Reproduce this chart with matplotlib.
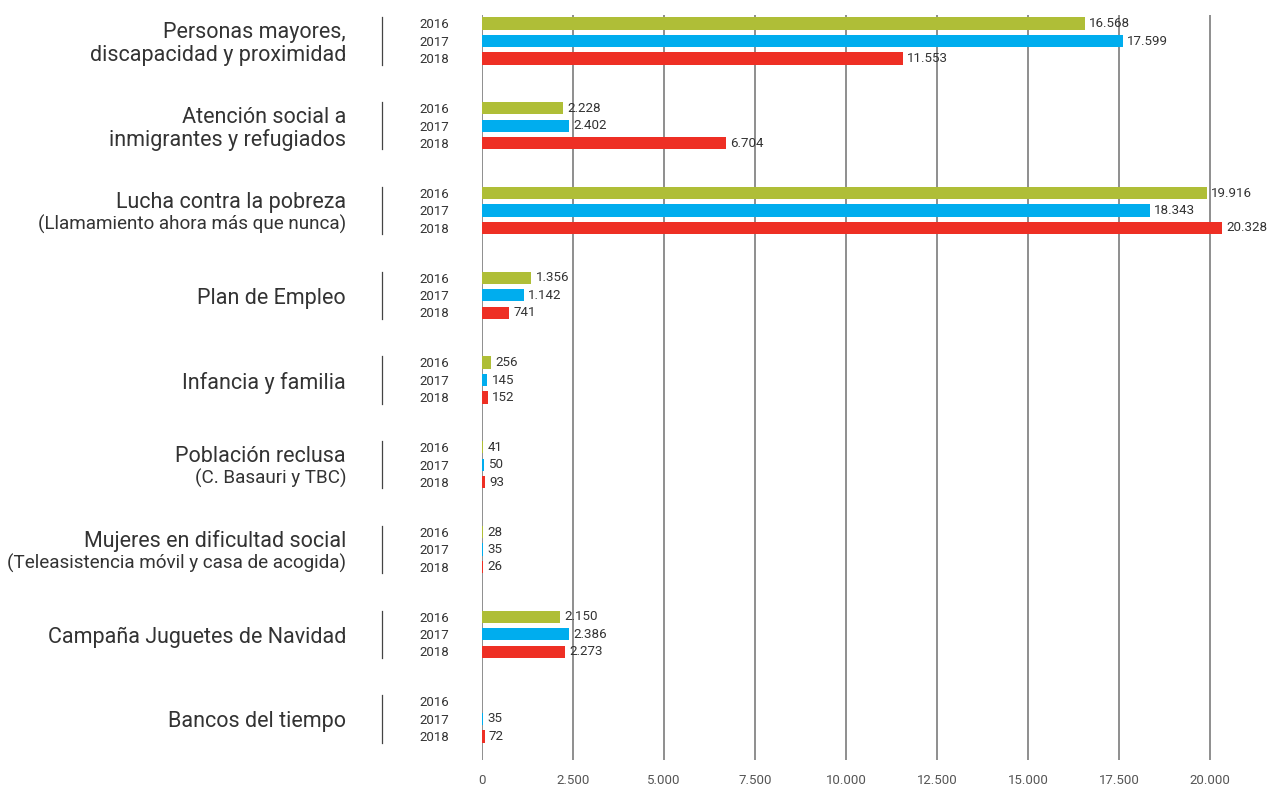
import numpy as np
import matplotlib
matplotlib.use('Agg')
import matplotlib.pyplot as plt
import matplotlib.transforms as mtransforms

plt.rcParams['font.family'] = ['Roboto', 'DejaVu Sans']

categories = ['Personas mayores,\ndiscapacidad y proximidad',
              'Atención social a\ninmigrantes y refugiados',
              'Lucha contra la pobreza\n(Llamamiento ahora más que nunca)',
              'Plan de Empleo',
              'Infancia y familia',
              'Población reclusa\n(C. Basauri y TBC)',
              'Mujeres en dificultad social\n(Teleasistencia móvil y casa de acogida)',
              'Campaña Juguetes de Navidad',
              'Bancos del tiempo']
years = ['2016', '2017', '2018']
v2016 = [16568, 2228, 19916, 1356, 256, 41, 28, 2150, None]
v2017 = [17599, 2402, 18343, 1142, 145, 50, 35, 2386, 35]
v2018 = [11553, 6704, 20328, 741, 152, 93, 26, 2273, 72]
xticks = [0, 2500, 5000, 7500, 10000, 12500, 15000, 17500, 20000]

COLORS = ['#AFBE37', '#00ADEE', '#EE2F24']
TXT = '#333333'

fig = plt.figure(figsize=(12.74, 7.92), dpi=100)
ax = fig.add_axes([482/1274, 32/792, 792/1274, 745/792])

def fmt(v):
    return f'{v:,}'.replace(',', '.')

off = 0.206
bh = 0.145
for gi, cat in enumerate(categories):
    for yi, (vals, col) in enumerate(zip([v2016, v2017, v2018], COLORS)):
        y = gi + (yi - 1) * off
        v = vals[gi]
        if v is not None:
            ax.barh(y, v, height=bh, color=col, zorder=3)
            ax.annotate(fmt(v), xy=(v, y), xytext=(3, 0), textcoords='offset points',
                        va='center', ha='left', fontsize=9.6, color=TXT, zorder=4)

trans = mtransforms.blended_transform_factory(ax.transAxes, ax.transData)
for gi, cat in enumerate(categories):
    lines = cat.split('\n')
    if len(lines) == 1:
        pos = [gi + 0.035]
    else:
        pos = [gi - 0.10, gi + 0.165]
    for line, yy in zip(lines, pos):
        fs = 13.6 if line.startswith('(') else 15.5
        ax.text(-0.1717, yy, line, transform=trans, ha='right', va='center',
                fontsize=fs, color=TXT)
    ax.plot([-0.126, -0.126], [gi - 0.28, gi + 0.28], transform=trans,
            color='#444444', lw=0.9, clip_on=False)
    for yi, yr in enumerate(years):
        ax.text(-0.0417, gi + (yi - 1) * off + 0.015, yr, transform=trans, ha='right',
                va='center', fontsize=9.5, color=TXT)

ax.set_xlim(0, 21758)
ax.set_ylim(8.484, -0.307)
ax.set_yticks([])
ax.set_xticks(xticks)
ax.set_xticklabels([fmt(t) for t in xticks], fontsize=9.5, color='#555555')
ax.tick_params(axis='x', length=0, pad=10)
ax.grid(True, axis='x', color='#707070', lw=1.1, zorder=0)
for s in ax.spines.values():
    s.set_visible(False)

fig.savefig('out.png', dpi=100)
